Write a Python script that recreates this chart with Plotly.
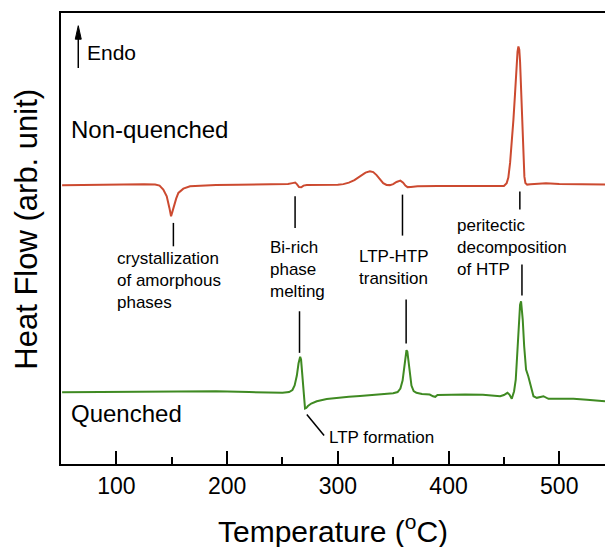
import plotly.graph_objects as go

# ---- data (heat flow in arbitrary units) ----
nonq_T = [51, 70, 90, 110, 125, 135, 139, 142.4, 145.5, 147.9, 149.4, 150.5, 152.1, 154, 156, 158,
          160.5, 166.5, 175.6, 190, 210, 230, 245, 255, 259, 261.5, 263, 265, 267, 269, 272, 285,
          300, 305, 310, 315, 320, 325, 329, 332, 335, 338, 341, 344, 347, 350, 353, 356.5, 359,
          361, 363, 366, 372, 390, 410, 430, 445, 450, 452.5, 454, 455.6, 457, 458.6, 460, 461,
          462.3, 463.1, 463.9, 464.6, 465.4, 466.2, 467, 467.6, 468.5, 469.4, 471, 474, 480, 488,
          500, 515, 530, 541.3]
nonq_HF = [278.8, 279.2, 279.5, 279.7, 279.9, 279.5, 278.5, 274.5, 267.8, 256.2, 247.8, 252, 259.5,
           265.5, 271.2, 273.5, 275.5, 277.8, 278.5, 279, 279.3, 279.6, 279.9, 280.2, 281, 281.5,
           280, 277, 276.8, 278.5, 279, 279, 279.3, 280, 281.5, 284, 288, 291.5, 292.8, 292, 289,
           284.5, 281, 279.2, 279, 280, 282.2, 283.5, 281.5, 278.5, 277, 277.2, 277.8, 278, 278,
           277.8, 277.8, 278.2, 281, 286.5, 301.5, 319.5, 344.5, 369.5, 394.5, 412.5, 417.8,
           414.5, 402.5, 379.5, 351.5, 324.5, 301.5, 287.5, 281.2, 279.5, 279.8, 280.3, 280.8,
           280.2, 280, 279.7, 279.5]

q_T = [51, 70, 100, 130, 160, 190, 220, 240, 250, 256, 259, 261, 263, 264.5, 265.5, 266, 266.8,
       267.5, 268.3, 269, 269.8, 270.4, 271.5, 273, 276, 281, 290, 299, 310, 320, 330, 341, 350,
       354, 356.5, 358.5, 360, 361, 362, 362.8, 363.8, 365, 366.5, 368.5, 371, 376, 383, 386, 388,
       390, 400, 415, 431, 440, 446.6, 450, 453.2, 455, 457.1, 459.2, 460.7, 461.6, 463.1, 464.6,
       465.5, 467, 468.3, 470, 472, 474.6, 476.7, 479.7, 485.7, 490.2, 500, 512.8, 525, 541.3]
q_HF = [71.8, 72, 72.2, 72.5, 72.8, 72.8, 72, 71.2, 71.2, 72, 74, 78.5, 88.5, 100.5, 106.5, 107.2,
        104.5, 94.5, 79.5, 66.5, 58.5, 55.5, 56, 58, 60.5, 62.8, 65, 66.2, 67.2, 68, 68.8, 69.5,
        70.7, 72, 75.5, 83.5, 95.5, 106.5, 113.8, 112.5, 102.5, 89.5, 78.5, 73, 71.2, 70, 69.5,
        67.7, 67.2, 69, 69.5, 69.5, 69.2, 68.2, 67.8, 69, 71.2, 69.5, 65.2, 72.8, 84.5, 101.5,
        134.5, 159.5, 162.8, 144.5, 117.8, 94.5, 87.8, 77.8, 67.8, 66.2, 67.8, 65.2, 65.5, 65.2,
        64.2, 62.8]

x_major_step = 100
x_minor_step = 50
x_range = [50, 541.3]
y_range = [0, 451.2]

x_title = "Temperature (<sup>o</sup>C)"
y_title = "Heat Flow (arb. unit)"

# annotation texts
labels = {
    "cryst": "crystallization<br>of amorphous<br>phases",
    "bi": "Bi-rich<br>phase<br>melting",
    "ltphtp": "LTP-HTP<br>transition",
    "perit": "peritectic<br>decomposition<br>of HTP",
    "ltpf": "LTP formation",
}

FONT = "Liberation Sans, Arial, sans-serif"
RED = "#cc4a30"
GREEN = "#3f8a22"

fig = go.Figure()
fig.add_trace(go.Scatter(x=nonq_T, y=nonq_HF, mode="lines", line=dict(color=RED, width=2),
                         name="Non-quenched", showlegend=False))
fig.add_trace(go.Scatter(x=q_T, y=q_HF, mode="lines", line=dict(color=GREEN, width=2),
                         name="Quenched", showlegend=False))

# leader lines
segs = [
    (151.5, 241.2, 151.5, 217.8),
    (261.4, 267.8, 261.4, 236.2),
    (265.4, 152.8, 265.4, 111.2),
    (358.4, 269.5, 358.4, 228.5),
    (361.7, 164.5, 361.7, 120.5),
    (464.4, 272.5, 464.4, 254.5),
    (466.3, 199.5, 466.3, 168.5),
    (272.0, 49.5, 287.6, 28.5),
    (65.6, 396.2, 65.6, 428.0),   # Endo arrow shaft
]
for x0, y0, x1, y1 in segs:
    fig.add_shape(type="line", x0=x0, y0=y0, x1=x1, y1=y1, xref="x", yref="y",
                  line=dict(color="black", width=1.5))
# Endo arrow head
fig.add_shape(type="path", xref="x", yref="y",
              path="M 62.9 425 L 68.3 425 L 65.6 438.5 Z",
              fillcolor="black", line=dict(color="black", width=1))

ann_font = dict(family=FONT, size=17, color="black")
texts = [
    (98.8, 183.8, labels["cryst"]),
    (237.0, 194.5, labels["bi"]),
    (317.3, 196.2, labels["ltphtp"]),
    (406.1, 216.2, labels["perit"]),
    (290.6, 26.2, labels["ltpf"]),
]
for x, y, t in texts:
    fig.add_annotation(x=x, y=y, text=t, showarrow=False, xanchor="left", yanchor="middle",
                       align="left", font=ann_font)

fig.add_annotation(x=57.2, y=334.5, text="Non-quenched", showarrow=False, xanchor="left",
                   yanchor="middle", font=dict(family=FONT, size=24, color="black"))
fig.add_annotation(x=57.0, y=50.5, text="Quenched", showarrow=False, xanchor="left",
                   yanchor="middle", font=dict(family=FONT, size=24, color="black"))
fig.add_annotation(x=72.0, y=411.2, text="Endo", showarrow=False, xanchor="left",
                   yanchor="middle", font=dict(family=FONT, size=21, color="black"))

# axis titles
fig.add_annotation(x=0.5, y=-0.145, xref="paper", yref="paper", text=x_title, showarrow=False,
                   xanchor="center", yanchor="middle",
                   font=dict(family=FONT, size=30, color="black"))
fig.add_annotation(x=-0.064, y=0.52, xref="paper", yref="paper", text=y_title, showarrow=False,
                   textangle=-90, xanchor="center", yanchor="middle",
                   font=dict(family=FONT, size=31, color="black"))

fig.update_layout(
    width=605, height=547,
    margin=dict(l=61, r=0, t=13, b=83),
    paper_bgcolor="white", plot_bgcolor="white",
    font=dict(family=FONT, color="black"),
)
fig.update_xaxes(
    range=x_range, tickmode="linear", tick0=0, dtick=x_major_step,
    ticks="inside", ticklen=13, tickwidth=2, tickcolor="black",
    minor=dict(tickmode="linear", tick0=0, dtick=x_minor_step, ticks="inside", ticklen=7,
               tickwidth=2, tickcolor="black"),
    showline=True, linecolor="black", linewidth=2, mirror=True,
    showgrid=False, zeroline=False,
    tickfont=dict(family=FONT, size=23, color="black"),
)
fig.update_yaxes(
    range=y_range, showticklabels=False,
    showline=True, linecolor="black", linewidth=2,
    showgrid=False, zeroline=False,
)

fig.write_html("out.html")
